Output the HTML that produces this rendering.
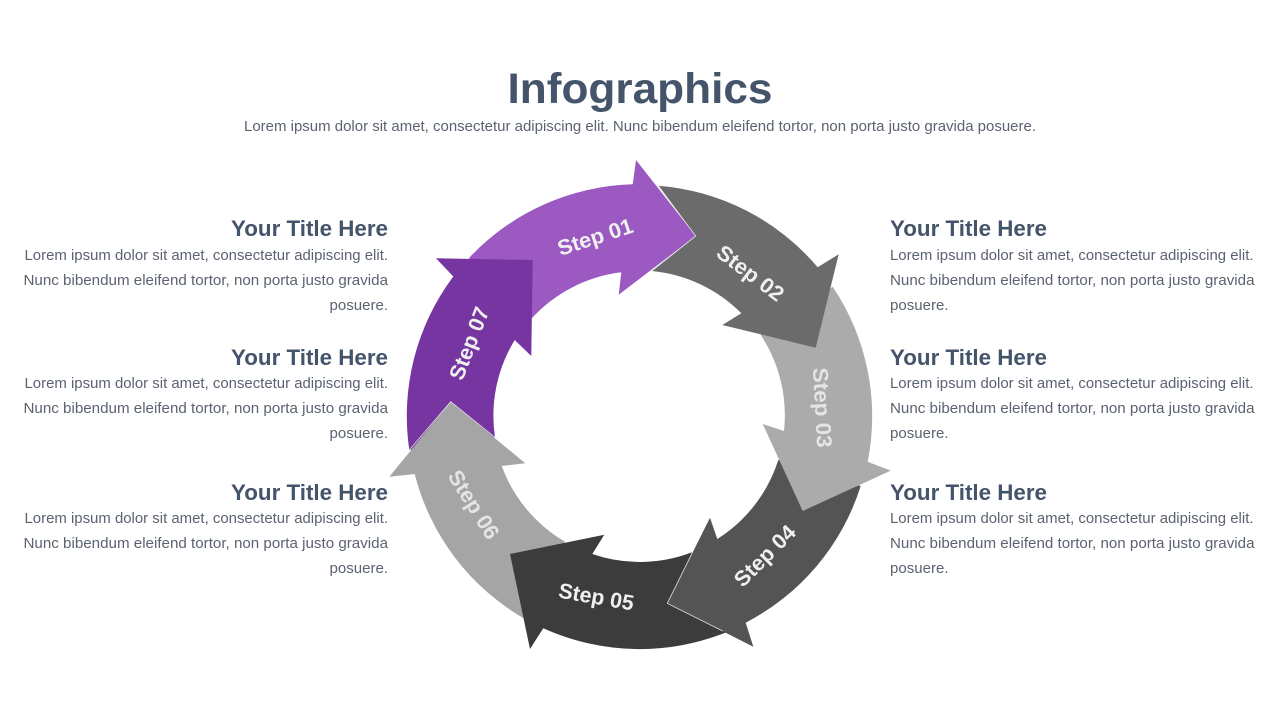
<!DOCTYPE html>
<html><head><meta charset="utf-8"><title>Infographics</title>
<style>
html,body{margin:0;padding:0;background:#fff;width:1280px;height:720px;overflow:hidden}
svg{display:block}
text{font-family:"Liberation Sans",sans-serif}
.t{font-weight:700;font-size:22px;fill:#44546a}
.b{font-size:14.5px;fill:#5b6370}
.s{font-weight:700;font-size:21.5px;fill:#f0f0f0;text-anchor:middle}
.e{fill:none;stroke:#e2e2e2;stroke-width:.8}
</style></head><body>
<svg width="1280" height="720" viewBox="0 0 1280 720" xmlns="http://www.w3.org/2000/svg">
<text x="640" y="103" text-anchor="middle" font-size="43" font-weight="700" fill="#44546a" textLength="265" lengthAdjust="spacingAndGlyphs">Infographics</text>
<text x="640" y="131" text-anchor="middle" font-size="14.5" fill="#5b6370" textLength="792" lengthAdjust="spacingAndGlyphs">Lorem ipsum dolor sit amet, consectetur adipiscing elit. Nunc bibendum eleifend tortor, non porta justo gravida posuere.</text>

<path fill="#9b59c1" d="M469,258 A232.5,232.5 0 0 1 632.7,184.3 L636,160 L695.7,236 L618.7,294.7 L621.3,272.3 A145.5,145.5 0 0 0 532,318 Z"/>
<path fill="#7635a0" d="M436,258.3 L532.7,260 L531.3,356 L514.7,340 A145.5,145.5 0 0 0 495,437.3 L409.3,450 A232.5,232.5 0 0 1 453.3,276.5 Z"/>
<path fill="#a5a5a5" d="M450.7,401.7 L525.3,463.3 L501.7,466 A145.5,145.5 0 0 0 565,541.7 L525,619 A232.5,232.5 0 0 1 414.7,474 L389.3,476.7 Z"/>
<path fill="#3c3c3c" d="M510,554 L604.3,534.7 L592.3,554 A145.5,145.5 0 0 0 692,552.3 L727,632 A232.5,232.5 0 0 1 543.3,628.2 L530,649 Z"/>
<path fill="#545454" d="M667.3,603.3 L710,517.7 L717.3,539 A145.5,145.5 0 0 0 778.3,460 L860.7,486 A232.5,232.5 0 0 1 745.7,622.7 L753.3,646.7 Z"/>
<path fill="#ababab" d="M802.7,511 L762.7,424 L784,431 A145.5,145.5 0 0 0 760.7,335 L832.7,286.7 A232.5,232.5 0 0 1 867.7,461.7 L890.7,470.7 Z"/>
<path fill="#6b6b6b" d="M658.3,185.7 A232.5,232.5 0 0 1 817.7,267.3 L838.7,254.3 L815.7,347.7 L722.3,325 L741.3,313.3 A145.5,145.5 0 0 0 651.7,271 L695.7,236 Z"/>

<polyline class="e" points="658.3,185.7 695.7,236 651.7,271"/>
<polyline class="e" points="692.5,552.3 667.3,603.3 722.7,631"/>
<polyline class="e" points="409.3,450 450.7,401.7 495,437.3"/>

<text class="s" transform="translate(597.5,244) rotate(-18)" textLength="78" lengthAdjust="spacingAndGlyphs">Step 01</text>
<text class="s" transform="translate(746,279) rotate(37)" textLength="78" lengthAdjust="spacingAndGlyphs">Step 02</text>
<text class="s" transform="translate(815,408) rotate(87)" textLength="80" lengthAdjust="spacingAndGlyphs" style="fill:#e4e4e4">Step 03</text>
<text class="s" transform="translate(770,561) rotate(-45)" textLength="77" lengthAdjust="spacingAndGlyphs">Step 04</text>
<text class="s" transform="translate(595,604) rotate(10)" textLength="76" lengthAdjust="spacingAndGlyphs">Step 05</text>
<text class="s" transform="translate(467.5,508.5) rotate(58)" textLength="77" lengthAdjust="spacingAndGlyphs" style="fill:#e4e4e4">Step 06</text>
<text class="s" transform="translate(476,346) rotate(-69)" textLength="76" lengthAdjust="spacingAndGlyphs">Step 07</text>

<!-- left column -->
<g text-anchor="end">
<text class="t" x="388" y="236" textLength="157" lengthAdjust="spacingAndGlyphs">Your Title Here</text>
<text class="b" x="388" y="260" textLength="363.5" lengthAdjust="spacingAndGlyphs">Lorem ipsum dolor sit amet, consectetur adipiscing elit.</text>
<text class="b" x="388" y="285" textLength="364.5" lengthAdjust="spacingAndGlyphs">Nunc bibendum eleifend tortor, non porta justo gravida</text>
<text class="b" x="388" y="310" textLength="58.5" lengthAdjust="spacingAndGlyphs">posuere.</text>
<text class="t" x="388" y="365" textLength="157" lengthAdjust="spacingAndGlyphs">Your Title Here</text>
<text class="b" x="388" y="388" textLength="363.5" lengthAdjust="spacingAndGlyphs">Lorem ipsum dolor sit amet, consectetur adipiscing elit.</text>
<text class="b" x="388" y="413" textLength="364.5" lengthAdjust="spacingAndGlyphs">Nunc bibendum eleifend tortor, non porta justo gravida</text>
<text class="b" x="388" y="438" textLength="58.5" lengthAdjust="spacingAndGlyphs">posuere.</text>
<text class="t" x="388" y="500" textLength="157" lengthAdjust="spacingAndGlyphs">Your Title Here</text>
<text class="b" x="388" y="523" textLength="363.5" lengthAdjust="spacingAndGlyphs">Lorem ipsum dolor sit amet, consectetur adipiscing elit.</text>
<text class="b" x="388" y="548" textLength="364.5" lengthAdjust="spacingAndGlyphs">Nunc bibendum eleifend tortor, non porta justo gravida</text>
<text class="b" x="388" y="573" textLength="58.5" lengthAdjust="spacingAndGlyphs">posuere.</text>
</g>

<!-- right column -->
<g>
<text class="t" x="890" y="236" textLength="157" lengthAdjust="spacingAndGlyphs">Your Title Here</text>
<text class="b" x="890" y="260" textLength="363.5" lengthAdjust="spacingAndGlyphs">Lorem ipsum dolor sit amet, consectetur adipiscing elit.</text>
<text class="b" x="890" y="285" textLength="364.5" lengthAdjust="spacingAndGlyphs">Nunc bibendum eleifend tortor, non porta justo gravida</text>
<text class="b" x="890" y="310" textLength="58.5" lengthAdjust="spacingAndGlyphs">posuere.</text>
<text class="t" x="890" y="365" textLength="157" lengthAdjust="spacingAndGlyphs">Your Title Here</text>
<text class="b" x="890" y="388" textLength="363.5" lengthAdjust="spacingAndGlyphs">Lorem ipsum dolor sit amet, consectetur adipiscing elit.</text>
<text class="b" x="890" y="413" textLength="364.5" lengthAdjust="spacingAndGlyphs">Nunc bibendum eleifend tortor, non porta justo gravida</text>
<text class="b" x="890" y="438" textLength="58.5" lengthAdjust="spacingAndGlyphs">posuere.</text>
<text class="t" x="890" y="500" textLength="157" lengthAdjust="spacingAndGlyphs">Your Title Here</text>
<text class="b" x="890" y="523" textLength="363.5" lengthAdjust="spacingAndGlyphs">Lorem ipsum dolor sit amet, consectetur adipiscing elit.</text>
<text class="b" x="890" y="548" textLength="364.5" lengthAdjust="spacingAndGlyphs">Nunc bibendum eleifend tortor, non porta justo gravida</text>
<text class="b" x="890" y="573" textLength="58.5" lengthAdjust="spacingAndGlyphs">posuere.</text>
</g>
</svg>
</body></html>
